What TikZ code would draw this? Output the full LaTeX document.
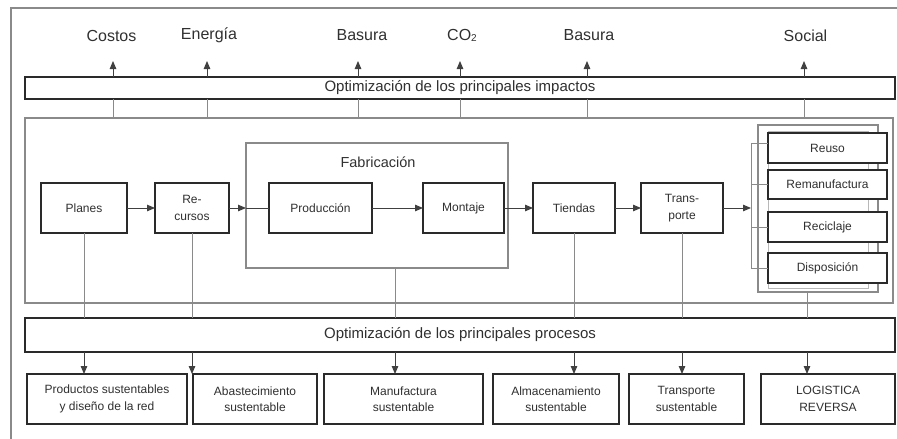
\documentclass[tikz,border=0pt]{standalone}
\usepackage{fontspec}
\setmainfont{Liberation Sans}
\usetikzlibrary{arrows.meta}
\definecolor{boxc}{HTML}{2A2A2A}
\definecolor{frm}{HTML}{8A8A8A}
\definecolor{shd}{HTML}{B8B8B8}
\definecolor{txt}{HTML}{303030}
\definecolor{lnc}{HTML}{404040}
\begin{document}
\begin{tikzpicture}[x=1pt,y=-1pt,
  box/.style={draw=boxc, line width=1.2pt, fill=white, inner sep=0pt, outer sep=0pt, align=center, font=\fontsize{12}{16.5}\selectfont, text=txt},
  band/.style={draw=boxc, line width=1.7pt, fill=white, inner sep=0pt, outer sep=0pt, font=\fontsize{15}{18}\selectfont, text=txt},
  framebox/.style={draw=frm, line width=1.2pt, inner sep=0pt, outer sep=0pt},
  lab/.style={font=\fontsize{16}{18}\selectfont, text=txt, inner sep=0pt},
  arr/.style={-{Triangle[length=8pt,width=6.5pt]}, line width=1pt, draw=lnc, fill=lnc},
  ln/.style={line width=1pt, draw=frm}
]
\useasboundingbox (0,0) rectangle (897,439);
% outer frame (partly cut)
\draw[frm, line width=1.2pt] (11,460) -- (11,8) -- (920,8);

% top labels
\node[lab] (costos) at (111.5,35.5) {Costos};
\node[lab] (energia) at (209,35.5) {Energía};
\node[lab] (basura1) at (362,35.5) {Basura};
\node[lab] (co2) at (462,35.5) {CO\raisebox{-0.15ex}{\fontsize{10}{10}\selectfont 2}};
\node[lab] (basura2) at (589,35.5) {Basura};
\node[lab] (social) at (805.5,35.5) {Social};
\coordinate (t1) at (113,61);
\coordinate (t2) at (207,61);
\coordinate (t3) at (358,61);
\coordinate (t4) at (460,61);
\coordinate (t5) at (587,61);
\coordinate (t6) at (804,61);

% middle frame
\node[framebox, minimum width=868pt, minimum height=185pt] (mid) at (459,210.5) {};

% top band
\node[band, minimum width=870pt, minimum height=22pt] (top) at (460,88) {Optimización de los principales impactos};

\foreach \t in {t1,t2,t3,t4,t5,t6}{
  \draw[arr] (top.north -| \t) -- (\t);
  \draw[ln] (top.south -| \t) -- (mid.north -| \t);
}

% fabrication frame
\node[framebox, minimum width=262pt, minimum height=125pt] (fab) at (377,205.5) {};
\node[font=\fontsize{14.5}{17}\selectfont, text=txt, inner sep=0pt] (fabt) at (378,162) {Fabricación};

% process boxes
\node[box, minimum width=86pt, minimum height=50pt] (pla) at (84,208) {Planes};
\node[box, minimum width=74pt, minimum height=50pt] (rec) at (192,208) {Re-\\cursos};
\node[box, minimum width=103pt, minimum height=50pt] (pro) at (320.5,208) {Producción};
\node[box, minimum width=81pt, minimum height=50pt] (mon) at (463.5,208) {Montaje};
\node[box, minimum width=82pt, minimum height=50pt] (tie) at (574,208) {Tiendas};
\node[box, minimum width=82pt, minimum height=50pt] (tra) at (682,208) {Trans-\\porte};

% reverse group
\node[framebox, minimum width=120pt, minimum height=167pt] (grp) at (818,208.5) {};
\node[draw=shd, line width=1pt, inner sep=0pt, minimum width=100pt, minimum height=157pt] (grps) at (818,209.5) {};
\node[box, minimum width=119pt, minimum height=30pt] (reu) at (827.5,148) {Reuso};
\node[box, minimum width=119pt, minimum height=29pt] (rem) at (827.5,184.5) {Remanufactura};
\node[box, minimum width=119pt, minimum height=30pt] (rcl) at (827.5,227) {Reciclaje};
\node[box, minimum width=119pt, minimum height=30pt] (dis) at (827.5,268) {Disposición};
\coordinate (br) at (751,208);
\coordinate (brtop) at (751,143);
\coordinate (brbot) at (751,268);

% flow arrows
\draw[arr] (pla.east) -- (rec.west);
\draw[arr] (rec.east) -- (fab.west |- rec.east);
\draw[ln, draw=lnc] (fab.west |- pro.west) -- (pro.west);
\draw[arr] (pro.east) -- (mon.west);
\draw[arr] (mon.east) -- (tie.west);
\draw[arr] (tie.east) -- (tra.west);
\draw[arr] (tra.east) -- (br);
\draw[ln] (brtop) -- (brbot);
\draw[ln] (brtop) -- (reu.west |- brtop);
\draw[ln] (brtop |- rem.west) -- (rem.west);
\draw[ln] (brtop |- rcl.west) -- (rcl.west);
\draw[ln] (brbot) -- (dis.west);

% bottom band
\node[band, minimum width=870pt, minimum height=34pt] (bot) at (460,335) {Optimización de los principales procesos};

% bottom boxes
\node[box, minimum width=160pt, minimum height=50pt] (b1) at (107,399) {Productos sustentables\\y diseño de la red};
\node[box, minimum width=124pt, minimum height=50pt] (b2) at (255,399) {Abastecimiento\\sustentable};
\node[box, minimum width=159pt, minimum height=50pt] (b3) at (403.5,399) {Manufactura\\sustentable};
\node[box, minimum width=126pt, minimum height=50pt] (b4) at (556,399) {Almacenamiento\\sustentable};
\node[box, minimum width=115pt, minimum height=50pt] (b5) at (686.5,399) {Transporte\\sustentable};
\node[box, minimum width=134pt, minimum height=50pt] (b6) at (828,399) {LOGISTICA\\REVERSA};

% links down
\coordinate (dfab) at (395,268);
\coordinate (dgrp) at (807,292);
\draw[ln] (pla.south) -- (bot.north -| pla.south);
\draw[ln] (rec.south) -- (bot.north -| rec.south);
\draw[ln] (dfab) -- (bot.north -| dfab);
\draw[ln] (tie.south) -- (bot.north -| tie.south);
\draw[ln] (tra.south) -- (bot.north -| tra.south);
\draw[ln] (dgrp) -- (bot.north -| dgrp);

\draw[arr] (bot.south -| pla.south) -- (b1.north -| pla.south);
\draw[arr] (bot.south -| rec.south) -- (b2.north -| rec.south);
\draw[arr] (bot.south -| dfab) -- (b3.north -| dfab);
\draw[arr] (bot.south -| tie.south) -- (b4.north -| tie.south);
\draw[arr] (bot.south -| tra.south) -- (b5.north -| tra.south);
\draw[arr] (bot.south -| dgrp) -- (b6.north -| dgrp);
\end{tikzpicture}
\end{document}
